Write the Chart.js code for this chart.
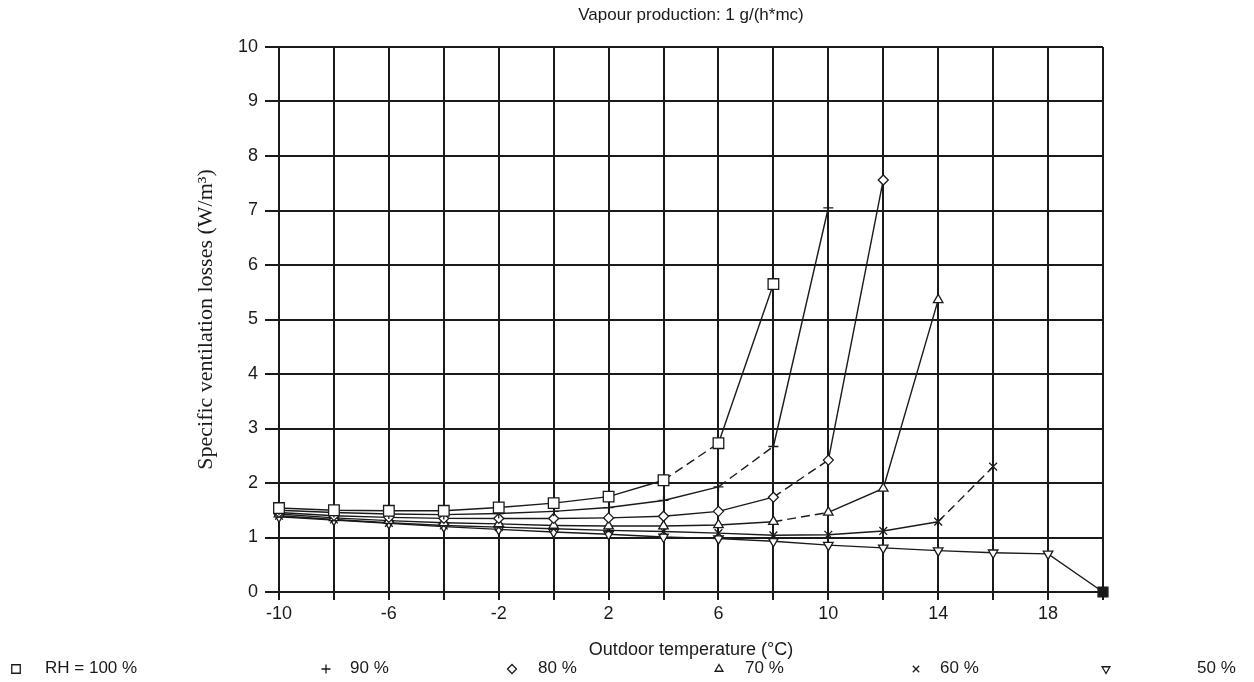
<!DOCTYPE html>
<html>
<head>
<meta charset="utf-8">
<script src="https://cdn.jsdelivr.net/npm/chart.js@4/dist/chart.umd.min.js"></script>
<style>
  html, body { margin: 0; padding: 0; background: #fff; }
  #wrap { position: relative; width: 1254px; height: 682px; }
</style>
</head>
<body>
<div id="wrap"><canvas id="chart" width="1254" height="682"></canvas></div>
<script>
// Outdoor temperature (°C), every 2 degrees
const temps = [-10, -8, -6, -4, -2, 0, 2, 4, 6, 8, 10, 12, 14, 16, 18, 20];

// Specific ventilation losses (W/m³) per relative humidity
const rh100 = [1.54, 1.50, 1.49, 1.49, 1.55, 1.63, 1.75, 2.05, 2.73, 5.65];
const rh90  = [1.50, 1.46, 1.43, 1.42, 1.44, 1.48, 1.55, 1.68, 1.93, 2.67, 7.05];
const rh80  = [1.46, 1.40, 1.37, 1.35, 1.35, 1.35, 1.36, 1.39, 1.48, 1.74, 2.42, 7.56];
const rh70  = [1.43, 1.36, 1.31, 1.27, 1.25, 1.22, 1.21, 1.21, 1.23, 1.29, 1.46, 1.90, 5.36];
const rh60  = [1.40, 1.33, 1.27, 1.22, 1.19, 1.16, 1.13, 1.11, 1.08, 1.04, 1.05, 1.12, 1.29, 2.30];
const rh50  = [1.38, 1.32, 1.26, 1.20, 1.15, 1.10, 1.06, 1.01, 0.98, 0.93, 0.86, 0.81, 0.76, 0.72, 0.70, 0.00];

const legendLabels = ['RH = 100 %', '90 %', '80 %', '70 %', '60 %', '50 %'];

const INK = '#1a1a1a';
const SANS = "'Liberation Sans', Arial, Helvetica, sans-serif";
const SERIF = "'Liberation Serif', 'Times New Roman', serif";

function toPoints(values) {
    return values.map((v, i) => ({ x: temps[i], y: v }));
}

// segmentos que en el original salen discontinuos
function dashedAt(indices) {
    return {
        borderDash: ctx => indices.includes(ctx.p0DataIndex) ? [9, 5] : undefined
    };
}

const markers = [
    { style: 'rect', rotation: 0, radius: 7.5 },
    { style: 'cross', rotation: 0, radius: 5 },
    { style: 'rectRot', rotation: 0, radius: 5 },
    { style: 'triangle', rotation: 0, radius: 5.5 },
    { style: 'crossRot', rotation: 0, radius: 5.5 },
    { style: 'triangle', rotation: 180, radius: 5.5 }
];

function series(label, values, m, dashIdx) {
    return {
        label,
        data: toPoints(values),
        borderColor: INK,
        borderWidth: 1.4,
        backgroundColor: '#fff',
        pointStyle: m.style,
        pointRotation: m.rotation,
        pointRadius: m.radius,
        pointBorderWidth: 1.3,
        pointBorderColor: INK,
        pointBackgroundColor: '#fff',
        tension: 0,
        clip: false,
        segment: dashedAt(dashIdx)
    };
}

const ds50 = series(legendLabels[5], rh50, markers[5], []);
// último punto (20 °C, 0) es un cuadrado relleno
const last50 = rh50.length - 1;
ds50.pointStyle = rh50.map((v, i) => i === last50 ? 'rect' : 'triangle');
ds50.pointRotation = rh50.map((v, i) => i === last50 ? 0 : 180);
ds50.pointRadius = rh50.map((v, i) => i === last50 ? 7 : 5.5);
ds50.pointBackgroundColor = rh50.map((v, i) => i === last50 ? INK : '#fff');

const datasets = [
    series(legendLabels[0], rh100, markers[0], [7]),
    series(legendLabels[1], rh90, markers[1], [8]),
    series(legendLabels[2], rh80, markers[2], [9]),
    series(legendLabels[3], rh70, markers[3], [9]),
    series(legendLabels[4], rh60, markers[4], [12]),
    ds50
];

// Leyenda inferior, repartida a lo ancho como en el original
const bottomLegend = {
    id: 'bottomLegend',
    afterDraw(chart) {
        const ctx = chart.ctx;
        const symX = [16, 326, 512, 719, 916, 1106];
        const textX = [45, 350, 538, 745, 940, 1197];
        const y = 668;
        ctx.save();
        ctx.font = '17px ' + SANS;
        ctx.textBaseline = 'middle';
        legendLabels.forEach((label, i) => {
            const m = markers[i];
            ctx.fillStyle = '#fff';
            ctx.strokeStyle = INK;
            Chart.helpers.drawPoint(ctx, {
                pointStyle: m.style,
                rotation: m.rotation,
                radius: m.style === 'rect' ? 6 : 4.5,
                borderWidth: 1.2
            }, symX[i], y + 1);
            ctx.fillStyle = INK;
            ctx.fillText(label, textX[i], y);
        });
        ctx.restore();
    }
};

new Chart(document.getElementById('chart'), {
    type: 'line',
    data: { datasets },
    options: {
        responsive: false,
        animation: false,
        layout: { padding: { left: 0, right: 151, top: 0, bottom: 0 } },
        plugins: {
            legend: { display: false },
            tooltip: { enabled: false },
            title: {
                display: true,
                fullSize: false,
                text: 'Vapour production: 1 g/(h*mc)',
                color: INK,
                font: { family: SANS, size: 17, weight: 'normal' },
                padding: { top: 5, bottom: 21.6 }
            }
        },
        scales: {
            x: {
                type: 'linear',
                min: -10,
                max: 20,
                afterFit: scale => { scale.height = 90; },
                ticks: {
                    stepSize: 2,
                    autoSkip: false,
                    maxRotation: 0,
                    padding: 3,
                    color: INK,
                    font: { family: SANS, size: 18 },
                    callback: v => ((v + 10) % 4 === 0 ? String(v) : '')
                },
                grid: { color: INK, lineWidth: 2, tickLength: 8 },
                border: { color: INK, width: 2 },
                title: {
                    display: true,
                    text: 'Outdoor temperature (°C)',
                    color: INK,
                    font: { family: SANS, size: 18 },
                    padding: { top: 0, bottom: 21 }
                }
            },
            y: {
                min: 0,
                max: 10,
                afterFit: scale => { scale.width = 279; },
                ticks: {
                    stepSize: 1,
                    padding: 7,
                    color: INK,
                    font: { family: SANS, size: 18 }
                },
                grid: { color: INK, lineWidth: 2, tickLength: 14 },
                border: { color: INK, width: 2 },
                title: {
                    display: true,
                    text: 'Specific ventilation losses (W/m³)',
                    color: INK,
                    font: { family: SERIF, size: 22 },
                    padding: { top: 193, bottom: 0 }
                }
            }
        }
    },
    plugins: [bottomLegend]
});
</script>
</body>
</html>
